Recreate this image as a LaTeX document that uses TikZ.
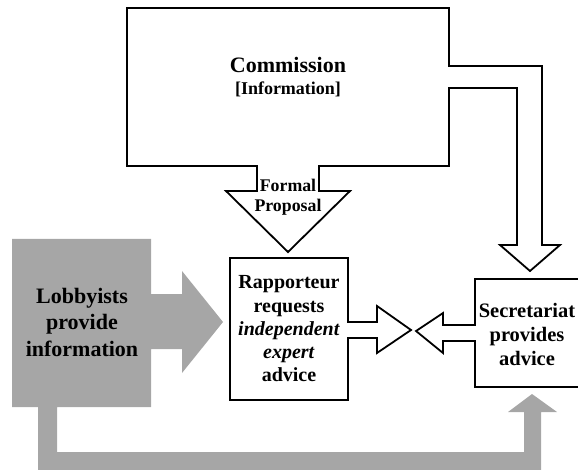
\documentclass[tikz,border=0pt]{standalone}
\usepackage{fontspec}
\setmainfont{Liberation Serif}
\definecolor{lobbygrey}{RGB}{166,166,166}
\begin{document}
\begin{tikzpicture}[x=1pt,y=-1pt,
  outline/.style={draw=black,line width=1.8pt,fill=white,line join=miter},
  greyshape/.style={fill=lobbygrey,draw=none},
  bigtxt/.style={font=\fontsize{22}{26.5}\selectfont\bfseries,align=center,anchor=base,inner sep=0pt},
  midtxt/.style={font=\fontsize{20}{23.2}\selectfont\bfseries,align=center,anchor=base,inner sep=0pt},
  sectxt/.style={font=\fontsize{20.5}{24.3}\selectfont\bfseries,align=center,anchor=base,inner sep=0pt},
  smalltxt/.style={font=\fontsize{17.8}{20}\selectfont\bfseries,align=center,anchor=base,inner sep=0pt}]
\useasboundingbox (0,0) rectangle (578,470);
\clip (0,0) rectangle (578,470);
% grey lobbyists shape with its two arrows
\fill[greyshape] (12,239) -- (151,239) -- (151,294) -- (182,294) -- (182,271) -- (223,322)
  -- (182,373) -- (182,349) -- (151,349) -- (151,407) -- (57,407) -- (57,452)
  -- (524,452) -- (524,412) -- (508,412) -- (532,394) -- (557,412) -- (541,412)
  -- (541,475) -- (38,475) -- (38,407) -- (12,407) -- cycle;
% commission box with formal proposal arrow and arrow to secretariat
\draw[outline] (127,8) -- (449,8) -- (449,66) -- (542,66) -- (542,245) -- (560,245)
  -- (530,271) -- (500,245) -- (517,245) -- (517,88) -- (449,88) -- (449,166)
  -- (319,166) -- (319,191) -- (350,191) -- (288,252) -- (226,191) -- (257,191)
  -- (257,166) -- (127,166) -- cycle;
% rapporteur box with its arrow
\draw[outline] (230,258) -- (348,258) -- (348,322) -- (377,322) -- (377,306) -- (411,330)
  -- (377,353) -- (377,338) -- (348,338) -- (348,400) -- (230,400) -- cycle;
% secretariat box with its arrow
\draw[outline] (585,279) -- (475,279) -- (475,325) -- (443,325) -- (443,313) -- (416,331)
  -- (443,353) -- (443,341) -- (475,341) -- (475,387) -- (585,387);
% texts
\node[bigtxt] (comm) at (288,73) {Commission};
\node[smalltxt,font=\fontsize{18}{20}\selectfont\bfseries] (info) at (288,95) {[Information]};
\node[smalltxt] (formal) at (288,211.5) {Formal\\Proposal};
\node[bigtxt] (lobby) at (82,356) {Lobbyists\\provide\\information};
\node[midtxt] (rapp) at (289,381.7) {Rapporteur\\requests\\\textit{independent}\\\textit{expert}\\advice};
\node[sectxt] (secr) at (527,365.7) {Secretariat\\provides\\advice};
\end{tikzpicture}
\end{document}
